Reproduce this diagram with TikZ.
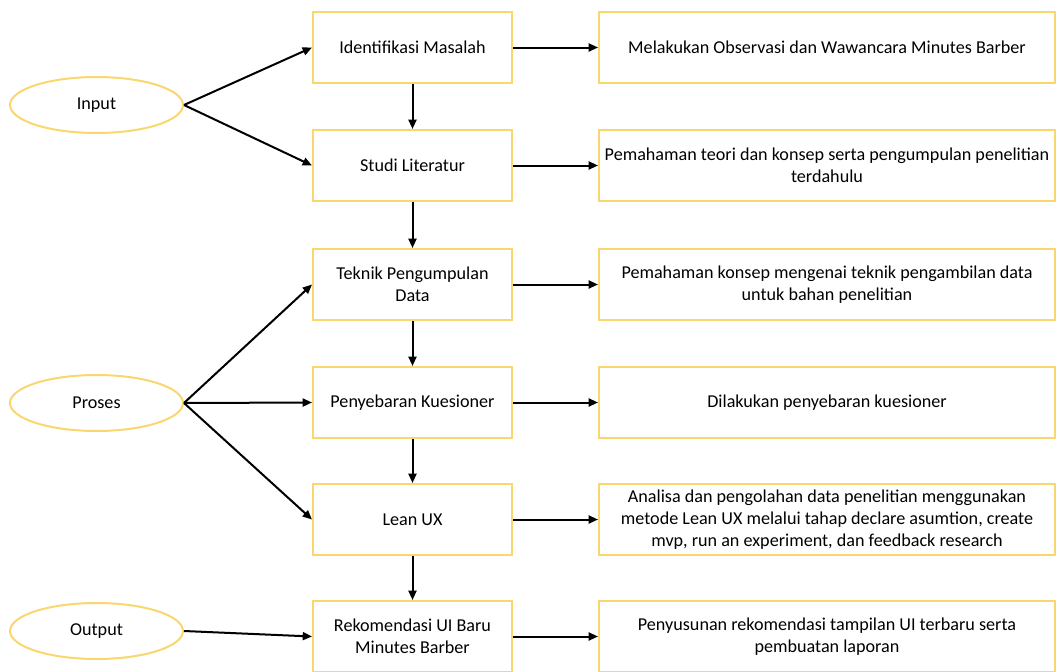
\documentclass[tikz,border=0pt]{standalone}
\usepackage{fontspec}
\setmainfont{Carlito}
\usetikzlibrary{arrows.meta, shapes.geometric}
\definecolor{kuning}{RGB}{250,214,110}

\begin{document}
\begin{tikzpicture}[x=0.75pt, y=-0.75pt, line width=1.5pt,
  font=\fontsize{13.6}{16.5}\selectfont,
  tahap/.style={draw=kuning, fill=white, minimum width=149.25pt, minimum height=53.25pt, align=center, inner sep=2pt},
  ket/.style={draw=kuning, fill=white, minimum width=342pt, minimum height=53.25pt, align=center, inner sep=2pt},
  elip/.style={draw=kuning, ellipse, minimum width=129.75pt, minimum height=42pt, inner sep=0pt},
  panah/.style={-{Triangle[length=7pt, width=6pt]}, black}]
  \useasboundingbox (0,0) rectangle (1056,671);
  % kolom tengah
  \node[tahap] (idm) at (412.5,47.5) {Identifikasi Masalah};
  \node[tahap] (stl) at (412.5,165.5) {Studi Literatur};
  \node[tahap] (tpd) at (412.5,284.5) {Teknik Pengumpulan\\Data};
  \node[tahap] (pkn) at (412.5,402.5) {Penyebaran Kuesioner};
  \node[tahap] (lux) at (412.5,519.5) {Lean UX};
  \node[tahap] (rek) at (412.5,636.5) {Rekomendasi UI Baru\\Minutes Barber};
  % kolom kanan
  \node[ket] (obs) at (827,47.5) {Melakukan Observasi dan Wawancara Minutes Barber};
  \node[ket] (teo) at (827,165.5) {Pemahaman teori dan konsep serta pengumpulan penelitian\\terdahulu};
  \node[ket] (kon) at (827,284.5) {Pemahaman konsep mengenai teknik pengambilan data\\untuk bahan penelitian};
  \node[ket] (sbr) at (827,402.5) {Dilakukan penyebaran kuesioner};
  \node[ket] (ana) at (827,519.5) {Analisa dan pengolahan data penelitian menggunakan\\metode Lean UX melalui tahap declare asumtion, create\\mvp, run an experiment, dan feedback research};
  \node[ket] (lap) at (827,636.5) {Penyusunan rekomendasi tampilan UI terbaru serta\\pembuatan laporan};
  % kolom kiri
  \node[elip] (inp) at (96.5,105) {Input};
  \node[elip] (pro) at (96.5,403) {Proses};
  \node[elip] (out) at (96.5,631) {Output};
  % panah
  \draw[panah] (inp.east) -- (idm.west);
  \draw[panah] (inp.east) -- (stl.west);
  \draw[panah] (pro.east) -- (tpd.west);
  \draw[panah] (pro.east) -- (pkn.west);
  \draw[panah] (pro.east) -- (lux.west);
  \draw[panah] (out.east) -- (rek.west);
  \draw[panah] (idm) -- (stl);
  \draw[panah] (stl) -- (tpd);
  \draw[panah] (tpd) -- (pkn);
  \draw[panah] (pkn) -- (lux);
  \draw[panah] (lux) -- (rek);
  \draw[panah] (idm) -- (obs);
  \draw[panah] (stl) -- (teo);
  \draw[panah] (tpd) -- (kon);
  \draw[panah] (pkn) -- (sbr);
  \draw[panah] (lux) -- (ana);
  \draw[panah] (rek) -- (lap);
\end{tikzpicture}
\end{document}
